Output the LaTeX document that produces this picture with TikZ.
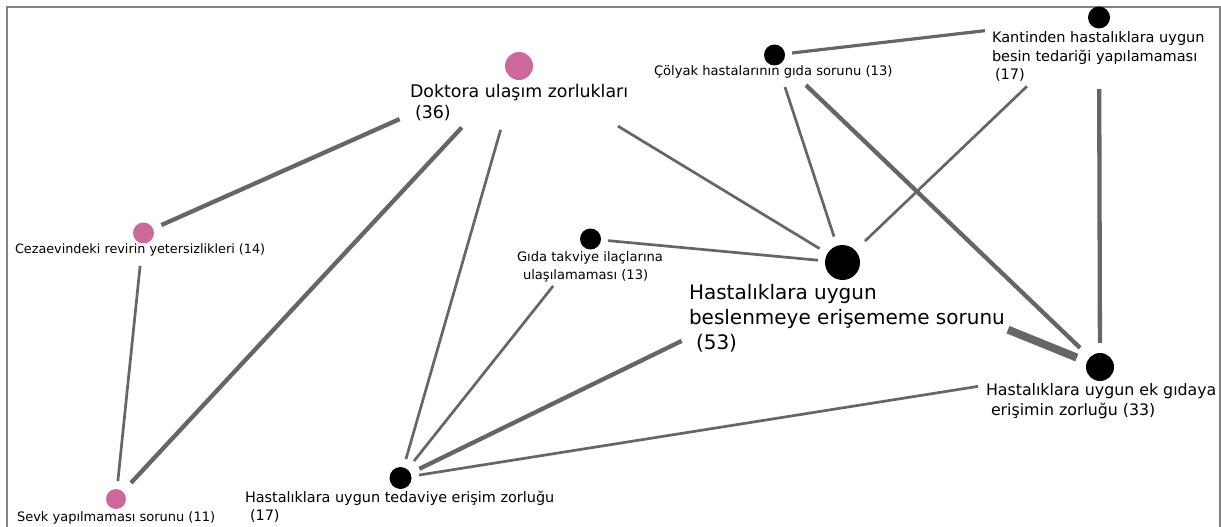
\documentclass[tikz,border=0pt]{standalone}
\usepackage{fontspec}
\setmainfont{DejaVu Sans}
\usetikzlibrary{calc}
\definecolor{pinkn}{RGB}{205,104,154}
\definecolor{edgegray}{RGB}{102,102,102}
\definecolor{framegray}{RGB}{130,130,130}
\begin{document}
\begin{tikzpicture}[x=1pt,y=-1pt,
  dotp/.style={circle,fill=pinkn,inner sep=0,minimum size=#1},
  dotb/.style={circle,fill=black,inner sep=0,minimum size=#1},
  lbl/.style={anchor=base west,inner sep=0,outer sep=0,font=\fontsize{#1}{#1}\selectfont},
  ethin/.style={draw=edgegray,line width=2.7pt},
  emid/.style={draw=edgegray,line width=3.2pt},
  ethick/.style={draw=edgegray,line width=4.3pt},
  eheavy/.style={draw=edgegray,line width=8pt}]
\useasboundingbox (0,0) rectangle (1221,527);
\clip (0,0) rectangle (1221,527);
% frame
\draw[framegray,line width=2.8pt] (7,560) -- (7,7) -- (1220,7) -- (1220,560);
% nodes (circles)
\node[dotp=28pt]   (D) at (519,66) {};
\node[dotp=21pt]   (C) at (143.5,233) {};
\node[dotp=20pt]   (S) at (116,499) {};
\node[dotb=21pt]   (Y) at (774.5,55) {};
\node[dotb=22pt]   (K) at (1099,17.5) {};
\node[dotb=21pt]   (G) at (590.5,239) {};
\node[dotb=35pt]   (B) at (842.5,262.5) {};
\node[dotb=28pt]   (E) at (1100,367) {};
\node[dotb=22pt]   (T) at (400.5,478) {};
% edges
\draw[ethick] ($(D)!130.7pt!(C)$) -- ($(C)!19.5pt!(D)$);
\draw[ethick] ($(D)!84pt!(S)$) -- ($(S)!22pt!(D)$);
\draw[ethin]  ($(D)!66.5pt!(T)$) -- ($(T)!19.8pt!(D)$);
\draw[ethin]  ($(D)!115.8pt!(B)$) -- ($(B)!26.8pt!(D)$);
\draw[ethin]  ($(C)!33pt!(S)$) -- ($(S)!18pt!(C)$);
\draw[emid]   ($(Y)!17.6pt!(K)$) -- ($(K)!114.8pt!(Y)$);
\draw[ethin]  ($(Y)!33.7pt!(B)$) -- ($(B)!27.2pt!(Y)$);
\draw[ethick] ($(Y)!43.5pt!(E)$) -- ($(E)!27.6pt!(Y)$);
\draw[ethin]  ($(K)!99.7pt!(B)$) -- ($(B)!31pt!(K)$);
\draw[ethick] ($(K)!71.5pt!(E)$) -- ($(E)!24pt!(K)$);
\draw[ethin]  ($(G)!17.6pt!(B)$) -- ($(B)!24.6pt!(G)$);
\draw[ethin]  ($(G)!60pt!(T)$) -- ($(T)!21.7pt!(G)$);
\draw[eheavy] ($(B)!178.6pt!(E)$) -- ($(E)!25pt!(B)$);
\draw[ethick] ($(B)!179pt!(T)$) -- ($(T)!21pt!(B)$);
\draw[ethin]  ($(E)!123.5pt!(T)$) -- ($(T)!18.7pt!(E)$);
% labels
\node[lbl=17.4] (D1) at (410,98) {Doktora ulaşım zorlukları};
\node[lbl=17.4] (D2) at (415,118) {(36)};
\node[lbl=12.8] (C1) at (15,253) {Cezaevindeki revirin yetersizlikleri (14)};
\node[lbl=13]   (S1) at (17,521) {Sevk yapılmaması sorunu (11)};
\node[lbl=13.1] (Y1) at (654,76) {Çölyak hastalarının gıda sorunu (13)};
\node[lbl=14.5] (K1) at (992,43) {Kantinden hastalıklara uygun};
\node[lbl=14.5] (K2) at (992,62) {besin tedariği yapılamaması};
\node[lbl=14.5] (K3) at (995,80) {(17)};
\node[lbl=13.1] (G1) at (517,261) {Gıda takviye ilaçlarına};
\node[lbl=13.1] (G2) at (523,279) {ulaşılamaması (13)};
\node[lbl=20]   (B1) at (689,299.5) {Hastalıklara uygun};
\node[lbl=20]   (B2) at (689,324) {beslenmeye erişememe sorunu};
\node[lbl=20]   (B3) at (696,349) {(53)};
\node[lbl=15.8] (E1) at (986,395) {Hastalıklara uygun ek gıdaya};
\node[lbl=15.8] (E2) at (991,415) {erişimin zorluğu (33)};
\node[lbl=14.4] (T1) at (245,502) {Hastalıklara uygun tedaviye erişim zorluğu};
\node[lbl=14.4] (T2) at (250,520) {(17)};
\end{tikzpicture}
\end{document}
